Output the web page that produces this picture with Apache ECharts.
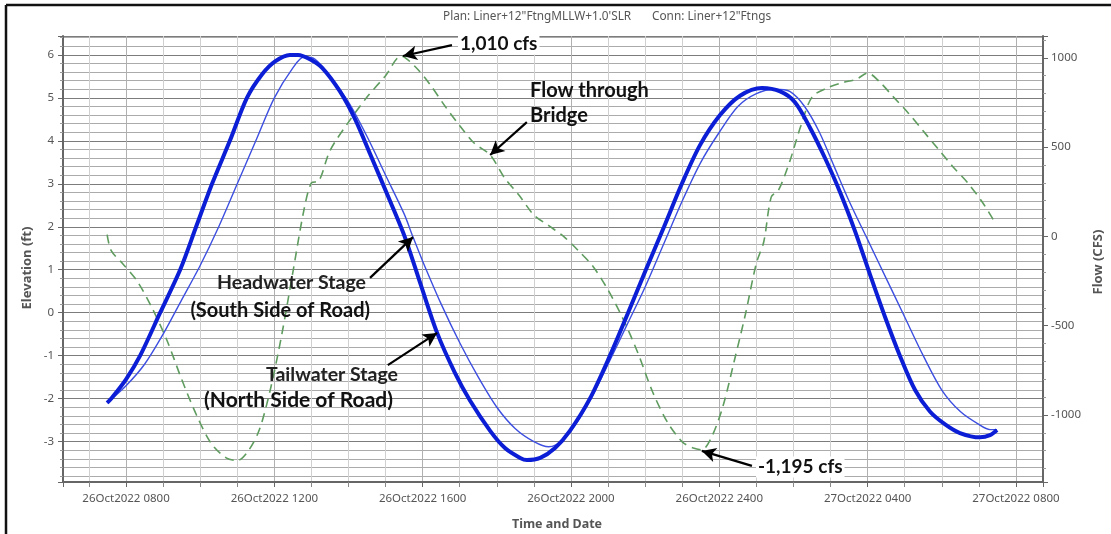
<!DOCTYPE html>
<html><head><meta charset="utf-8">
<script src="https://cdn.jsdelivr.net/npm/echarts@6/dist/echarts.min.js"></script>
<style>html,body{margin:0;padding:0;background:#fff}#c{width:1111px;height:534px}</style>
</head><body><div id="c"></div>
<script>
// ---------------- DATA ----------------
const titlePlan = 'Plan: Liner+12"FtngMLLW+1.0\'SLR';
const titleConn = 'Conn: Liner+12"Ftngs';
// x values are hours counted from 26Oct2022 0000
const xTickHours  = [8, 12, 16, 20, 24, 28, 32];
const xTickLabels = ['26Oct2022 0800','26Oct2022 1200','26Oct2022 1600','26Oct2022 2000','26Oct2022 2400','27Oct2022 0400','27Oct2022 0800'];
const elevTicks = [-3, -2, -1, 0, 1, 2, 3, 4, 5, 6];
const flowTicks = [-1000, -500, 0, 500, 1000];

// Tailwater Stage (North Side of Road) – thick line, ft
const tailHours = [7.49,7.62,8.00,8.38,8.92,9.46,9.89,10.32,10.80,11.26,11.67,12.02,12.42,12.64,12.96,13.29,13.77,14.18,14.58,15.12,15.52,15.93,16.39,16.87,17.28,17.82,18.22,18.63,18.81,19.17,19.57,19.97,20.51,21.05,21.54,22.02,22.51,22.99,23.48,24.02,24.56,25.15,25.64,26.04,26.45,26.85,27.26,27.66,28.06,28.47,28.87,29.28,29.68,30.09,30.49,31.03,31.30,31.49];
const tailElev  = [-2.10,-1.98,-1.55,-1.00,0.00,1.00,2.00,3.00,4.00,5.00,5.55,5.85,6.00,6.00,5.90,5.70,5.15,4.50,3.70,2.60,1.76,0.70,-0.47,-1.40,-2.05,-2.75,-3.15,-3.38,-3.43,-3.38,-3.15,-2.75,-2.00,-1.00,0.00,1.00,2.00,3.00,3.90,4.60,5.05,5.23,5.15,4.90,4.30,3.60,2.80,1.90,0.90,-0.10,-1.00,-1.80,-2.30,-2.60,-2.80,-2.90,-2.85,-2.73];

// Headwater Stage (South Side of Road) – thin line, ft
const headHours = [7.49,8.0,8.5,9.0,9.5,10.0,10.5,11.0,11.5,12.0,12.5,12.8,13.1,13.5,14.0,14.5,15.0,15.5,15.74,16.0,16.5,17.0,17.5,18.0,18.5,19.0,19.4,19.8,20.2,20.6,21.0,21.5,22.0,22.5,23.0,23.5,24.0,24.5,25.0,25.5,25.9,26.3,26.7,27.1,27.5,28.0,28.5,29.0,29.5,30.0,30.5,31.0,31.3,31.49];
const headElev  = [-2.10,-1.70,-1.20,-0.50,0.30,1.10,2.00,3.00,4.00,5.00,5.70,5.95,5.90,5.50,4.90,4.10,3.20,2.30,1.76,1.20,0.20,-0.70,-1.50,-2.20,-2.70,-3.00,-3.12,-2.95,-2.50,-1.90,-1.20,-0.30,0.60,1.60,2.60,3.50,4.20,4.80,5.10,5.20,5.15,4.80,4.20,3.40,2.60,1.70,0.80,-0.10,-1.00,-1.80,-2.30,-2.60,-2.72,-2.72];

// Flow through Bridge – dashed line, cfs
const flowHours = [7.49,7.6,7.9,8.3,8.7,9.1,9.5,9.9,10.3,10.7,11.0,11.3,11.6,11.9,12.2,12.5,12.8,13.0,13.2,13.5,14.0,14.5,15.0,15.42,15.8,16.2,16.6,17.0,17.4,17.82,18.2,18.6,19.0,19.4,19.8,20.2,20.6,21.0,21.4,21.8,22.2,22.6,23.0,23.3,23.53,23.8,24.1,24.4,24.7,25.0,25.2,25.4,25.6,25.9,26.2,26.5,26.9,27.3,27.7,28.0,28.3,28.7,29.1,29.5,29.9,30.3,30.7,31.1,31.4];
const flowCfs   = [10,-80,-150,-250,-400,-580,-800,-1000,-1160,-1240,-1255,-1200,-1080,-850,-550,-200,150,300,310,480,640,780,900,1010,950,850,730,620,520,456,330,230,120,60,0,-80,-170,-300,-460,-650,-870,-1040,-1150,-1185,-1195,-1120,-950,-700,-440,-150,-30,220,260,420,620,780,830,860,880,915,870,780,690,590,490,390,300,190,90];

// annotation arrows: [fromX, fromY, toX, toY] in data units
const arrowPeakFlow   = [16.79, 1071, 15.47, 1010];
const arrowBridge     = [18.81, 640, 17.82, 456];
const arrowHeadwater  = [14.58, 0.81, 15.74, 1.76];
const arrowTailwater  = [15.06, -1.22, 16.39, -0.47];
const arrowTroughFlow = [24.88, -1285, 23.53, -1201];

// ---------------- CHART ----------------
const zip = (a, b) => a.map((v, i) => [v, b[i]]);
const FONT = 'Noto Sans';
const ANNO = 'Lato';
const arrowLine = a => ({
  silent: true, symbol: ['none', 'arrow'], symbolSize: [11, 14],
  lineStyle: { color: '#000', width: 2.2, type: 'solid' },
  label: { show: false }, emphasis: { disabled: true },
  data: [[{ coord: [a[0], a[1]] }, { coord: [a[2], a[3]] }]]
});
const isIn = (v, list) => list.some(t => Math.abs(t - v) < 1e-6);

const chart = echarts.init(document.getElementById('c'), null, { renderer: 'canvas' });
chart.setOption({
  backgroundColor: '#fff',
  animation: false,
  grid: { left: 63, right: 68, top: 36, bottom: 52, containLabel: false },
  xAxis: {
    type: 'value', min: 6.30, max: 32.73, minInterval: 4, maxInterval: 4,
    axisLine: { show: true, onZero: false, lineStyle: { color: '#666', width: 2 } },
    axisTick: { show: true, length: 5, lineStyle: { color: '#666' } },
    minorTick: { show: true, splitNumber: 4, length: 5, lineStyle: { color: '#888' } },
    splitLine: { show: true, lineStyle: { color: '#b0b0b0', width: 1 } },
    minorSplitLine: { show: true, lineStyle: { color: '#d0d0d0', width: 1 } },
    axisLabel: {
      color: '#555', fontSize: 11.5, fontFamily: FONT, margin: 11, showMinLabel: false, showMaxLabel: false,
      formatter: v => { const i = xTickHours.findIndex(t => Math.abs(t - v) < 1e-6); return i >= 0 ? xTickLabels[i] : ''; }
    }
  },
  yAxis: [{
    type: 'value', min: -3.94, max: 6.44, minInterval: 1, maxInterval: 1,
    axisLine: { show: true, onZero: false, lineStyle: { color: '#666', width: 2 } },
    axisTick: { show: true, length: 5, lineStyle: { color: '#666' } },
    minorTick: { show: true, splitNumber: 5, length: 3, lineStyle: { color: '#999' } },
    splitLine: { show: true, lineStyle: { color: '#7c7c7c', width: 1 } },
    minorSplitLine: { show: true, lineStyle: { color: '#ababab', width: 1 } },
    axisLabel: {
      color: '#555', fontSize: 11.5, fontFamily: FONT, margin: 9, showMinLabel: false, showMaxLabel: false,
      formatter: v => isIn(v, elevTicks) ? String(Math.round(v)) : ''
    }
  }, {
    type: 'value', position: 'right', min: -1375, max: 1122, minInterval: 500, maxInterval: 500,
    axisLine: { show: true, onZero: false, lineStyle: { color: '#666', width: 2 } },
    axisTick: { show: true, length: 5, lineStyle: { color: '#666' } },
    minorTick: { show: true, splitNumber: 5, length: 3, lineStyle: { color: '#999' } },
    splitLine: { show: false },
    axisLabel: {
      color: '#555', fontSize: 11.5, fontFamily: FONT, margin: 8, showMinLabel: false, showMaxLabel: false,
      formatter: v => isIn(v, flowTicks) ? String(Math.round(v)) : ''
    }
  }],
  series: [{
    name: 'Headwater Stage', type: 'line', yAxisIndex: 0, data: zip(headHours, headElev),
    showSymbol: false, smooth: 0.3, lineStyle: { color: '#3d4fe0', width: 1.4 }, z: 3,
    markLine: { ...arrowLine(arrowHeadwater) }
  }, {
    name: 'Tailwater Stage', type: 'line', yAxisIndex: 0, data: zip(tailHours, tailElev),
    showSymbol: false, smooth: 0.3, lineStyle: { color: '#0b1ed6', width: 4 }, z: 4,
    markLine: { ...arrowLine(arrowTailwater) }
  }, {
    name: 'Flow', type: 'line', yAxisIndex: 1, data: zip(flowHours, flowCfs),
    showSymbol: false, smooth: 0.3, lineStyle: { color: '#5f9c5f', width: 1.6, type: [9, 6] }, z: 2
  }, {
    name: 'arrows1', type: 'line', yAxisIndex: 1, data: [], z: 5, markLine: { ...arrowLine(arrowPeakFlow) }
  }, {
    name: 'arrows2', type: 'line', yAxisIndex: 1, data: [], z: 5, markLine: { ...arrowLine(arrowBridge) }
  }, {
    name: 'arrows3', type: 'line', yAxisIndex: 1, data: [], z: 5, markLine: { ...arrowLine(arrowTroughFlow) }
  }],
  graphic: [
    { type: 'line', shape: { x1: 6, y1: 5, x2: 1111, y2: 5 }, style: { stroke: '#111', lineWidth: 2.5 } },
    { type: 'line', shape: { x1: 6, y1: 5, x2: 6, y2: 534 }, style: { stroke: '#111', lineWidth: 2.5 } },
    { type: 'text', x: 443, y: 17, style: { text: titlePlan, fontSize: 11.8, fontFamily: FONT, fill: '#555', align: 'left', verticalAlign: 'middle' } },
    { type: 'text', x: 652, y: 17, style: { text: titleConn, fontSize: 11.8, fontFamily: FONT, fill: '#555', align: 'left', verticalAlign: 'middle' } },
    { type: 'text', x: 27, y: 268, rotation: Math.PI / 2, style: { text: 'Elevation (ft)', fontSize: 13, fontWeight: 'bold', fontFamily: FONT, fill: '#555', align: 'center', verticalAlign: 'middle' } },
    { type: 'text', x: 1098, y: 262, rotation: Math.PI / 2, style: { text: 'Flow (CFS)', fontSize: 13, fontWeight: 'bold', fontFamily: FONT, fill: '#555', align: 'center', verticalAlign: 'middle' } },
    { type: 'text', x: 557, y: 524, style: { text: 'Time and Date', fontSize: 12.5, fontWeight: 'bold', fontFamily: FONT, fill: '#555', align: 'center', verticalAlign: 'middle' } },
    { type: 'text', x: 458, y: 44, z: 10, style: { text: '1,010 cfs', fontSize: 19, fontWeight: 'bold', fontFamily: ANNO, fill: '#111', align: 'left', verticalAlign: 'middle', backgroundColor: '#fff', padding: [1, 2] } },
    { type: 'text', x: 530, y: 91, z: 10, style: { text: 'Flow through', fontSize: 20, fontWeight: 'bold', fontFamily: ANNO, fill: '#111', align: 'left', verticalAlign: 'middle' } },
    { type: 'text', x: 530, y: 116, z: 10, style: { text: 'Bridge', fontSize: 20, fontWeight: 'bold', fontFamily: ANNO, fill: '#111', align: 'left', verticalAlign: 'middle' } },
    { type: 'text', x: 366, y: 283, z: 10, style: { text: 'Headwater Stage', fontSize: 19.5, fontWeight: 'bold', fontFamily: ANNO, fill: '#222', align: 'right', verticalAlign: 'middle' } },
    { type: 'text', x: 370, y: 311, z: 10, style: { text: '(South Side of Road)', fontSize: 20, fontWeight: 'bold', fontFamily: ANNO, fill: '#111', align: 'right', verticalAlign: 'middle' } },
    { type: 'text', x: 398, y: 375, z: 10, style: { text: 'Tailwater Stage', fontSize: 19.5, fontWeight: 'bold', fontFamily: ANNO, fill: '#222', align: 'right', verticalAlign: 'middle' } },
    { type: 'text', x: 393, y: 400, z: 10, style: { text: '(North Side of Road)', fontSize: 21, fontWeight: 'bold', fontFamily: ANNO, fill: '#111', align: 'right', verticalAlign: 'middle' } },
    { type: 'text', x: 756, y: 467, z: 10, style: { text: '-1,195 cfs', fontSize: 19, fontWeight: 'bold', fontFamily: ANNO, fill: '#111', align: 'left', verticalAlign: 'middle', backgroundColor: '#fff', padding: [1, 2] } }
  ]
});
</script></body></html>
